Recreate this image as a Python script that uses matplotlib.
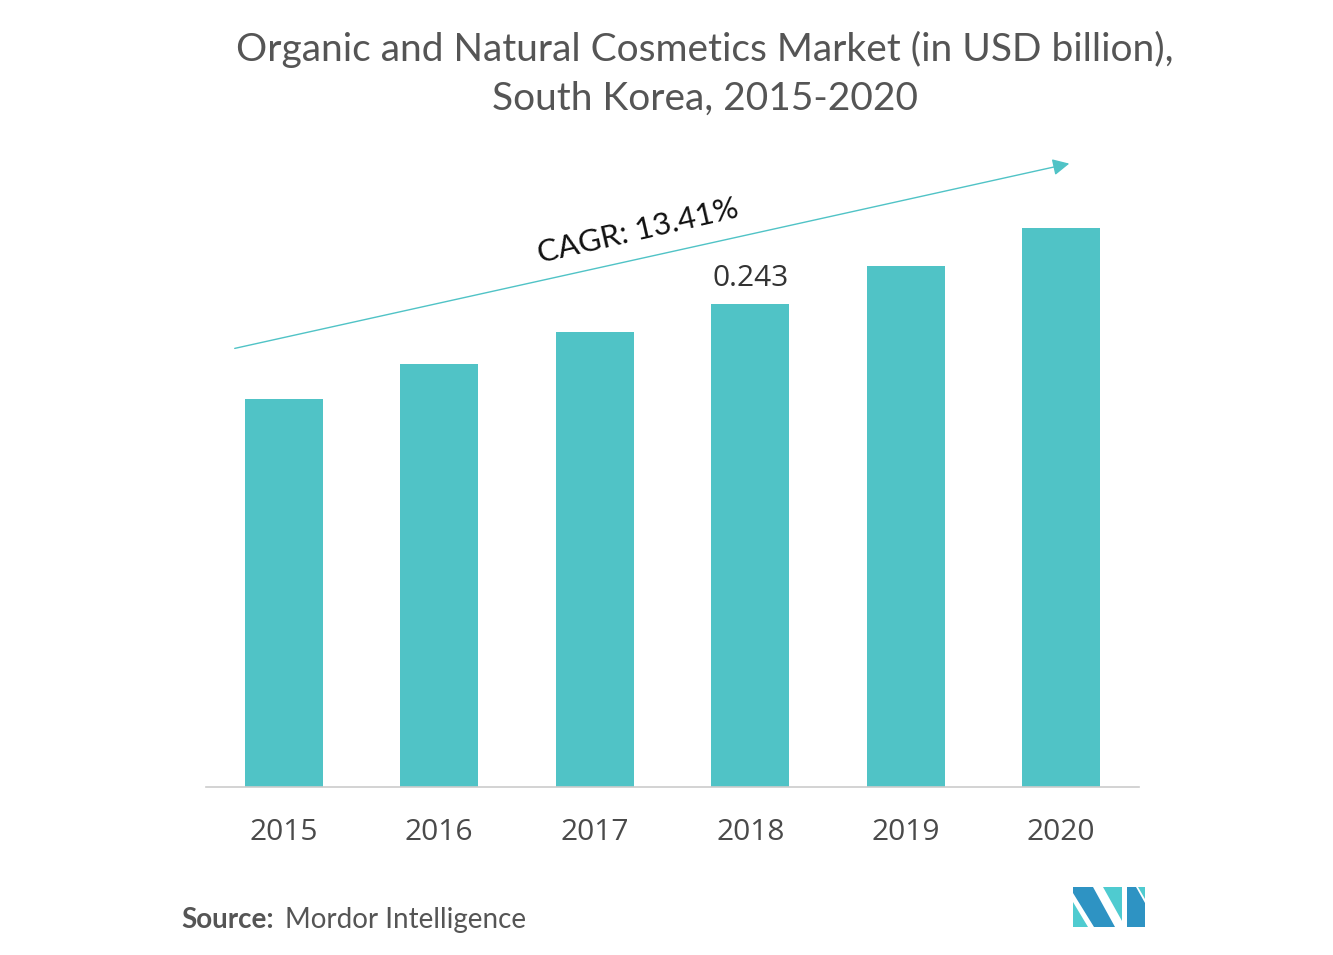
import matplotlib
matplotlib.use("Agg")
import matplotlib.pyplot as plt
from matplotlib.patches import Polygon

years = ["2015", "2016", "2017", "2018", "2019", "2020"]
values = [0.195, 0.213, 0.229, 0.243, 0.262, 0.281]
label_year = "2018"
label_text = "0.243"
cagr_text = "CAGR: 13.41%"
title = "Organic and Natural Cosmetics Market (in USD billion),\nSouth Korea, 2015-2020"

W, H = 1333, 955
fig = plt.figure(figsize=(W / 100, H / 100), dpi=100)

def fx(px):
    return px / W

def fy(py):
    return 1 - py / H

ax = fig.add_axes([fx(206), fy(787), fx(1139) - fx(206), fy(150) - fy(787)])
bar_color = "#50C3C6"
x = list(range(len(years)))
ax.bar(x, values, width=0.5, color=bar_color)
ax.set_xlim(-0.5, 5.5)
ax.set_ylim(0, 637 * 0.243 / 483)
ax.set_xticks(x)
ax.set_xticklabels(years, fontsize=21.5, color="#4a4a4a", family="Open Sans")
ax.tick_params(axis="x", length=0, pad=22.5)
ax.set_yticks([])
for s in ["top", "right", "left"]:
    ax.spines[s].set_visible(False)
ax.spines["bottom"].set_color("#cccccc")
ax.spines["bottom"].set_linewidth(1.2)

i = years.index(label_year)
ax.annotate(label_text, (i, values[i]), xytext=(0, 8), textcoords="offset points",
            ha="center", va="bottom", fontsize=21.5, color="#333333", family="Open Sans")

fig.text(fx(705), fy(74), title, ha="center", va="center", fontsize=28,
         color="#555555", family="Lato", linespacing=1.45)

fig.add_artist(matplotlib.patches.FancyArrowPatch(
    (fx(232), fy(349)), (fx(1072), fy(163)), transform=fig.transFigure,
    arrowstyle="-|>,head_length=10,head_width=5", color=bar_color, lw=1.0,
    mutation_scale=1))
fig.text(fx(638), fy(231), cagr_text, ha="center", va="center", fontsize=22.5,
         rotation=13, color="#111111", family="Lato", rotation_mode="anchor")

fig.text(fx(181), fy(920), "Source:", ha="left", va="center", fontsize=20,
         color="#555555", family="Lato", weight="bold")
fig.text(fx(285), fy(920), "Mordor Intelligence", ha="left", va="center", fontsize=20,
         color="#555555", family="Lato")

dark = "#2E93C3"
teal = "#4FCBD0"
def poly(pts, c):
    fig.add_artist(Polygon([(fx(a), fy(b)) for a, b in pts], closed=True,
                           transform=fig.transFigure, color=c, lw=0))
poly([(1073, 902), (1073, 927), (1088, 927)], teal)
poly([(1073, 887), (1093, 887), (1115, 927), (1094, 927), (1073, 893)], dark)
poly([(1103, 887), (1122, 887), (1122, 921)], teal)
poly([(1127, 887), (1136, 887), (1145, 903), (1145, 927), (1127, 927)], dark)
poly([(1138, 887), (1145, 887), (1145, 899)], teal)

fig.savefig("out.png", dpi=100)
